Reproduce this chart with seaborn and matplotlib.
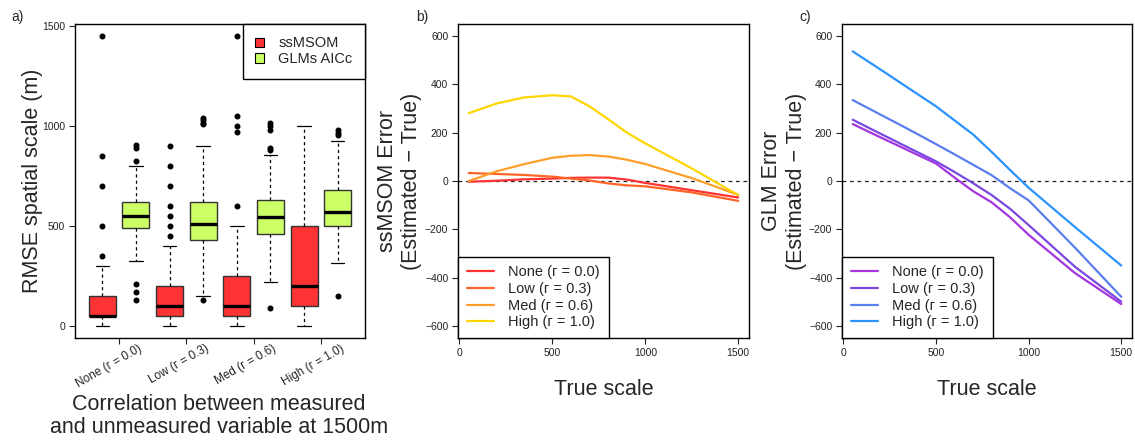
import numpy as np
import pandas as pd
import matplotlib
matplotlib.use("Agg")
import matplotlib.pyplot as plt
from matplotlib.patches import Patch
from matplotlib.lines import Line2D
from matplotlib.transforms import ScaledTranslation
import seaborn as sns

# ---------------------------------------------------------------- data
levels = ["None (ᴦ = 0.0)", "Low (ᴦ = 0.3)", "Med (ᴦ = 0.6)", "High (ᴦ = 1.0)"]
level_keys = ["None", "Low", "Med", "High"]

# (a) RMSE of the estimated spatial scale: box summaries per correlation level
ssmsom_q1 = [50, 50, 50, 100]
ssmsom_med = [50, 100, 100, 200]
ssmsom_q3 = [150, 200, 250, 500]
ssmsom_whislo = [0, 0, 0, 0]
ssmsom_whishi = [300, 400, 500, 1000]
ssmsom_fliers = [
    [1450, 850, 700, 500, 350],
    [900, 800, 700, 600, 550, 500, 450],
    [1450, 1050, 1000, 970, 600],
    [1250],
]

glm_q1 = [490, 430, 460, 500]
glm_med = [550, 510, 545, 570]
glm_q3 = [620, 620, 630, 680]
glm_whislo = [325, 150, 220, 315]
glm_whishi = [800, 900, 855, 925]
glm_fliers = [
    [905, 890, 825, 210, 170, 130],
    [1040, 1027, 1014, 1008, 130],
    [1015, 1000, 980, 890, 880, 90],
    [978, 965, 953, 150],
]

# (b), (c) mean error against the true scale
true_scale = [50, 200, 350, 500, 600, 700, 800, 900, 1000, 1250, 1500]

ssmsom_err_none = [-3, 1, 7, 10, 13, 14, 14, 6, -8, -38, -68]
ssmsom_err_low = [33, 29, 25, 18, 10, 2, -10, -18, -22, -47, -82]
ssmsom_err_med = [0, 40, 70, 96, 104, 107, 101, 88, 70, 12, -57]
ssmsom_err_high = [280, 320, 345, 354, 349, 308, 255, 200, 155, 52, -58]

glm_err_none = [235, 180, 126, 72, 14, -42, -88, -150, -222, -380, -508]
glm_err_low = [253, 195, 138, 81, 37, -9, -58, -115, -182, -354, -498]
glm_err_med = [334, 274, 214, 152, 110, 67, 24, -30, -80, -275, -478]
glm_err_high = [535, 460, 384, 308, 250, 192, 120, 45, -28, -190, -349]

# ---------------------------------------------------------------- style
sns.set_style("ticks")
plt.rcParams["font.family"] = ["Liberation Sans", "DejaVu Sans"]
plt.rcParams["axes.linewidth"] = 1.0
plt.rcParams["axes.edgecolor"] = "black"
plt.rcParams["xtick.color"] = "#222222"
plt.rcParams["ytick.color"] = "#222222"

red_fill = "#FF3333"
green_fill = "#CCFF66"
warm = ["#FF3333", "#FF6526", "#FF9F2A", "#FFD500"]
cool = ["#A435E0", "#7A48E0", "#5A7DF0", "#2A93FF"]

W, H = 1135, 440
fig = plt.figure(figsize=(W / 100, H / 100), dpi=100)


def axes_at(x0, x1, y0, y1):
    return fig.add_axes([x0 / W, 1 - y1 / H, (x1 - x0) / W, (y1 - y0) / H])


ax_a = axes_at(75, 365, 24, 338)
ax_b = axes_at(458, 749, 24, 338)
ax_c = axes_at(842, 1132, 24, 338)

for ax in (ax_a, ax_b, ax_c):
    for s in ax.spines.values():
        s.set_visible(True)
        s.set_color("black")
        s.set_linewidth(1.0)
    ax.tick_params(direction="out", length=4, width=0.8, labelsize=7.5, pad=3,
                   colors="#222222")

# ---------------------------------------------------------------- (a) boxplots
groups = np.arange(1, len(levels) + 1)


def box_stats(q1, med, q3, lo, hi, fl):
    return [dict(q1=a, med=m, q3=b, whislo=l, whishi=h, fliers=f)
            for a, m, b, l, h, f in zip(q1, med, q3, lo, hi, fl)]


common = dict(
    widths=0.4, capwidths=0.2, patch_artist=True, manage_ticks=False,
    medianprops=dict(color="black", linewidth=2.4, solid_capstyle="butt"),
    whiskerprops=dict(color="black", linewidth=0.9, linestyle=(0, (2.5, 2.5))),
    capprops=dict(color="black", linewidth=0.9),
    flierprops=dict(marker="o", markersize=3.3, markerfacecolor="black",
                    markeredgecolor="black", linestyle="none"),
)
ax_a.bxp(box_stats(ssmsom_q1, ssmsom_med, ssmsom_q3, ssmsom_whislo, ssmsom_whishi,
                   ssmsom_fliers),
         positions=groups - 0.25,
         boxprops=dict(facecolor=red_fill, edgecolor="#333333", linewidth=1.0),
         **common)
ax_a.bxp(box_stats(glm_q1, glm_med, glm_q3, glm_whislo, glm_whishi, glm_fliers),
         positions=groups + 0.25,
         boxprops=dict(facecolor=green_fill, edgecolor="#333333", linewidth=1.0),
         **common)

ax_a.set_xlim(0.345, 4.655)
ax_a.set_ylim(-58, 1508)
ax_a.set_yticks([0, 500, 1000, 1500])
ax_a.set_xticks(groups)
ax_a.set_xticklabels(levels, rotation=30, ha="right", va="center",
                     rotation_mode="anchor", fontsize=8.5)
for lbl in ax_a.get_xticklabels():
    lbl.set_transform(lbl.get_transform()
                      + ScaledTranslation(0.22, 0.0, fig.dpi_scale_trans))
ax_a.set_ylabel("RMSE spatial scale (m)", fontsize=15.5, va="center")
ax_a.yaxis.set_label_coords(-0.148, 0.5)

leg_a = ax_a.legend(
    handles=[Patch(facecolor=red_fill, edgecolor="black", linewidth=0.8),
             Patch(facecolor=green_fill, edgecolor="black", linewidth=0.8)],
    labels=["ssMSOM", "GLMs AICc"], loc="upper right", borderaxespad=0,
    fontsize=10.5, frameon=True, fancybox=False, framealpha=1,
    handlelength=0.6, handleheight=0.6, handletextpad=1.0, labelspacing=0.12,
    borderpad=0.85,
)
leg_a.get_frame().set_edgecolor("black")
leg_a.get_frame().set_linewidth(1.0)
leg_a.set_zorder(5)

fig.text(219 / W, 1 - 416 / H,
         "Correlation between measured\nand unmeasured variable at 1500m",
         ha="center", va="center", fontsize=15.5, linespacing=1.15)

# ---------------------------------------------------------------- (b), (c) lines


def long_frame(series):
    rows = []
    for key, vals in zip(level_keys, series):
        for x, y in zip(true_scale, vals):
            rows.append({"scale": x, "error": y, "level": key})
    return pd.DataFrame(rows)


ssmsom_df = long_frame([ssmsom_err_none, ssmsom_err_low, ssmsom_err_med, ssmsom_err_high])
glm_df = long_frame([glm_err_none, glm_err_low, glm_err_med, glm_err_high])

for ax, df, pal, ylab in (
    (ax_b, ssmsom_df, warm, "ssMSOM Error\n(Estimated − True)"),
    (ax_c, glm_df, cool, "GLM Error\n(Estimated − True)"),
):
    ax.axhline(0, color="#222222", linewidth=0.9, linestyle=(0, (3, 3)), zorder=1)
    sns.lineplot(data=df, x="scale", y="error", hue="level", hue_order=level_keys,
                 palette=pal, linewidth=1.6, legend=False, ax=ax, zorder=2)
    ax.set_xlim(-8, 1558)
    ax.set_ylim(-648, 648)
    ax.set_xticks([0, 500, 1000, 1500])
    ax.set_yticks([-600, -400, -200, 0, 200, 400, 600])
    ax.set_xlabel("True scale", fontsize=15.5, labelpad=15)
    ax.set_ylabel(ylab, fontsize=15.5, va="center", linespacing=1.2)
    ax.yaxis.set_label_coords(-0.2, 0.5)
    handles = [Line2D([], [], color=c, linewidth=1.6) for c in pal]
    leg = ax.legend(handles, levels, loc="lower left", borderaxespad=0,
                    fontsize=10.5, frameon=True, fancybox=False, framealpha=1,
                    handlelength=1.9, handletextpad=0.95, labelspacing=0.18,
                    borderpad=0.6)
    leg.get_frame().set_edgecolor("black")
    leg.get_frame().set_linewidth(1.0)

# panel tags
fig.text(18 / W, 1 - 17 / H, "a)", fontsize=10, ha="center", va="center")
fig.text(422 / W, 1 - 17 / H, "b)", fontsize=10, ha="center", va="center")
fig.text(805 / W, 1 - 17 / H, "c)", fontsize=10, ha="center", va="center")

fig.savefig("out.png", dpi=100)
